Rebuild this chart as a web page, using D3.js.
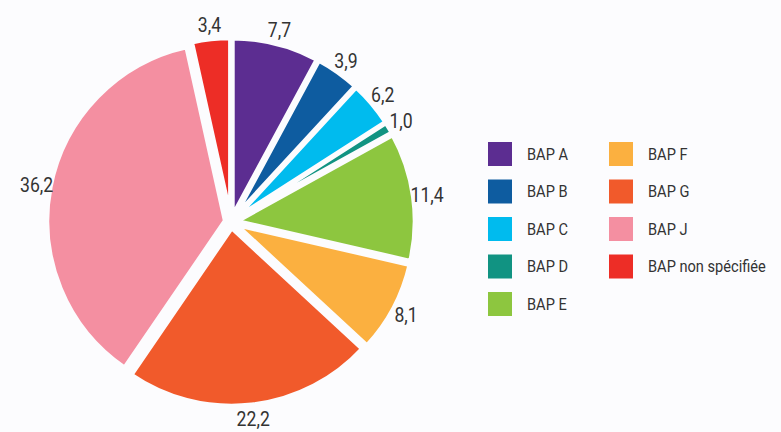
<!DOCTYPE html>
<html>
<head>
<meta charset="utf-8">
<script src="https://cdn.jsdelivr.net/npm/d3@7"></script>
<style>
  html, body { margin: 0; padding: 0; background: #fcfcfe; }
  svg text { font-family: "Roboto", "Liberation Sans", sans-serif; fill: #333; }
</style>
</head>
<body>
<div id="container"></div>
<script>
const categories = ["BAP A", "BAP B", "BAP C", "BAP D", "BAP E", "BAP F", "BAP G", "BAP J", "BAP non spécifiée"];
// slice sizes as drawn in the picture (the BAP C slice is drawn at about 4, though its label reads 6,2)
const values = [7.7, 3.9, 4.0, 1.0, 11.4, 8.1, 22.2, 36.2, 3.4];
const labels = ["7,7", "3,9", "6,2", "1,0", "11,4", "8,1", "22,2", "36,2", "3,4"];
const colors = ["#5c2d91", "#0e5ca0", "#00bbee", "#119382", "#8dc63f", "#fbb040", "#f15a2b", "#f48fa1", "#ed2d26"];

const w = 781; // canvas width
const h = 432; // canvas height
const cx = 231, cy = 222; // pie centre
const r = 178; // pie radius
const explode = 6; // each slice is pulled out a little
const narrow = 0.86; // the original font is condensed

const svg = d3.select("#container").append("svg").attr("width", w).attr("height", h);

const pie = d3.pie().sort(null).value((d) => d.value);
const data = pie(categories.map((c, i) => ({ name: c, value: values[i], label: labels[i], color: colors[i] })));

const arc = d3.arc().innerRadius(0).outerRadius(r);
const labelArc = d3.arc().innerRadius(r + 14).outerRadius(r + 14);

// offset of a slice along its middle angle
const shift = (d, k) => {
    const a = (d.startAngle + d.endAngle) / 2;
    return [Math.sin(a) * k, -Math.cos(a) * k];
};

const g = svg.append("g").attr("transform", `translate(${cx}, ${cy})`);

g.selectAll("path").data(data).enter().append("path")
    .attr("d", arc)
    .attr("transform", (d) => `translate(${shift(d, explode)})`)
    .attr("fill", (d) => d.data.color)
    .attr("stroke", "#fcfcfe")
    .attr("stroke-width", 4.5)
    .attr("stroke-linejoin", "miter");

g.selectAll("text").data(data).enter().append("text")
    .attr("transform", (d) => {
        const [x, y] = labelArc.centroid(d);
        const [sx, sy] = shift(d, explode);
        return `translate(${x + sx}, ${y + sy}) scale(${narrow}, 1)`;
    })
    .attr("text-anchor", "middle")
    .attr("dy", "0.35em")
    .attr("font-size", 20.5)
    .text((d) => d.data.label);

// legend, two columns
const legend = svg.append("g").attr("transform", "translate(488, 142)");
const item = legend.selectAll("g").data(categories).enter().append("g")
    .attr("transform", (d, i) => `translate(${i < 5 ? 0 : 121}, ${(i % 5) * 37.5})`);

item.append("rect").attr("width", 24).attr("height", 24).attr("fill", (d, i) => colors[i]);
item.append("text")
    .attr("transform", `translate(39, 12) scale(${narrow}, 1)`)
    .attr("dy", "0.35em")
    .attr("font-size", 17)
    .text((d) => d);
</script>
</body>
</html>
